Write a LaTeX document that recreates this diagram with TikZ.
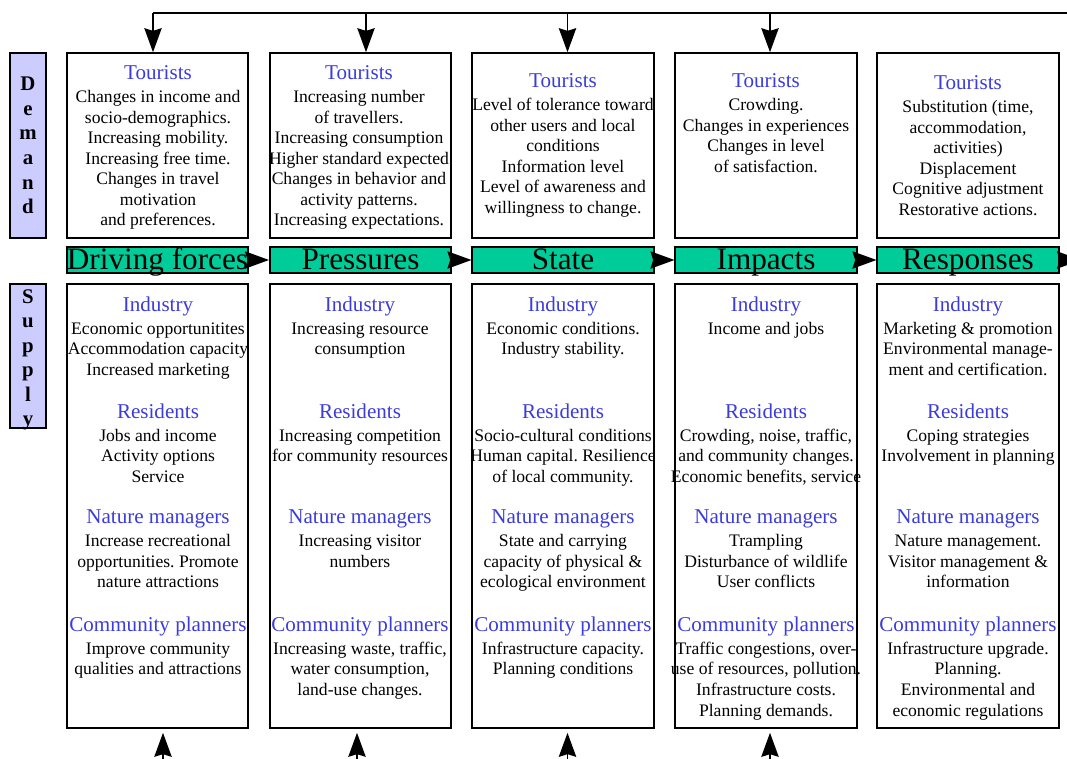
\documentclass[tikz,border=0pt]{standalone}
\usepackage{fontspec}
\setmainfont{Liberation Serif}
\usetikzlibrary{arrows.meta}
\definecolor{dgreen}{RGB}{0,204,153}
\definecolor{lav}{RGB}{204,204,255}
\definecolor{ttlblue}{RGB}{60,60,220}
\frenchspacing
\newcommand{\bodyf}{\fontsize{13.2}{15.4}\selectfont\frenchspacing}
\newcommand{\ttl}[1]{{\color{ttlblue}\fontsize{15.8}{15.4}\selectfont #1}\\[1.9pt]}
\tikzset{
  box/.style={draw, line width=1.2pt, minimum width=136.1pt, inner sep=0pt},
  upbox/.style={box, minimum height=138.75pt},
  lowbox/.style={box, minimum height=333pt},
  barbox/.style={box, fill=dgreen, minimum height=19.5pt},
  sidebox/.style={draw, fill=lav, line width=1.2pt, minimum width=27pt, inner sep=0pt},
  grp/.style={align=center, inner sep=0pt, anchor=north, font=\bodyf},
  barlbl/.style={anchor=base, inner sep=0pt, font=\fontsize{23.4}{26}\selectfont},
  sidelbl/.style={align=center, inner sep=0pt, anchor=north, font=\fontsize{15.6}{18.4}\selectfont\bfseries},
  arr/.style={-{Stealth[length=18pt,width=13pt,inset=2pt]}, line width=1.2pt}
}
\begin{document}
\begin{tikzpicture}[x=0.75pt,y=-0.75pt]
\useasboundingbox (0,0) rectangle (1067,758);
\clip (0,0) rectangle (1067,758);
% side boxes
\node[sidebox, minimum height=138.75pt] (dem) at (28,145.5) {};
\node[sidebox, minimum height=108pt] (sup) at (28,356) {};
\node[sidelbl] (demt) at (28,77) {D\\e\\m\\a\\n\\d};
\node[sidelbl] (supt) at (28,289) {S\\u\\p\\p\\l\\y};
% upper boxes
\node[upbox] (u1) at (157.5,145.5) {};
\node[upbox] (u2) at (360.5,145.5) {};
\node[upbox] (u3) at (563,145.5) {};
\node[upbox] (u4) at (766,145.5) {};
\node[upbox] (u5) at (968,145.5) {};
% bars
\node[barbox] (g1) at (157.5,260) {};
\node[barbox] (g2) at (360.5,260) {};
\node[barbox] (g3) at (563,260) {};
\node[barbox] (g4) at (766,260) {};
\node[barbox] (g5) at (968,260) {};
\node[barlbl] (gt1) at (157.5,269) {Driving forces};
\node[barlbl] (gt2) at (360.5,269) {Pressures};
\node[barlbl] (gt3) at (563,269) {State};
\node[barlbl] (gt4) at (766,269) {Impacts};
\node[barlbl] (gt5) at (968,269) {Responses};
% lower boxes
\node[lowbox] (l1) at (157.5,506) {};
\node[lowbox] (l2) at (360.5,506) {};
\node[lowbox] (l3) at (563,506) {};
\node[lowbox] (l4) at (766,506) {};
\node[lowbox] (l5) at (968,506) {};
% upper texts
\node[grp] (tu1) at (158,65.5) {\ttl{Tourists}Changes in income and\\socio-demographics.\\Increasing mobility.\\Increasing free time.\\Changes in travel\\motivation\\and preferences.};
\node[grp] (tu2) at (359,65.5) {\ttl{Tourists}Increasing number\\of travellers.\\Increasing consumption\\Higher standard expected\\Changes in behavior and\\activity patterns.\\Increasing expectations.};
\node[grp] (tu3) at (563,73.5) {\ttl{Tourists}Level of tolerance toward\\other users and local\\conditions\\Information level\\Level of awareness and\\willingness to change.};
\node[grp] (tu4) at (766,73.5) {\ttl{Tourists}Crowding.\\Changes in experiences\\Changes in level\\of satisfaction.};
\node[grp] (tu5) at (968,75.5) {\ttl{Tourists}Substitution (time,\\accommodation,\\activities)\\Displacement\\Cognitive adjustment\\Restorative actions.};
% lower texts: industry
\node[grp] (li1) at (158,296.5) {\ttl{Industry}Economic opportunitites\\Accommodation capacity\\Increased marketing};
\node[grp] (li2) at (360,296.5) {\ttl{Industry}Increasing resource\\consumption};
\node[grp] (li3) at (563,296.5) {\ttl{Industry}Economic conditions.\\Industry stability.};
\node[grp] (li4) at (766,296.5) {\ttl{Industry}Income and jobs};
\node[grp] (li5) at (968,296.5) {\ttl{Industry}Marketing \& promotion\\Environmental manage-\\ment and certification.};
% residents
\node[grp] (lr1) at (158,403.5) {\ttl{Residents}Jobs and income\\Activity options\\Service};
\node[grp] (lr2) at (360,403.5) {\ttl{Residents}Increasing competition\\for community resources};
\node[grp] (lr3) at (563,403.5) {\ttl{Residents}Socio-cultural conditions\\Human capital. Resilience\\of local community.};
\node[grp] (lr4) at (766,403.5) {\ttl{Residents}Crowding, noise, traffic,\\and community changes.\\Economic benefits, service};
\node[grp] (lr5) at (968,403.5) {\ttl{Residents}Coping strategies\\Involvement in planning};
% nature managers
\node[grp] (ln1) at (158,509.5) {\ttl{Nature managers}Increase recreational\\opportunities. Promote\\nature attractions};
\node[grp] (ln2) at (360,509.5) {\ttl{Nature managers}Increasing visitor\\numbers};
\node[grp] (ln3) at (563,509.5) {\ttl{Nature managers}State and carrying\\capacity of physical \&\\ecological environment};
\node[grp] (ln4) at (766,509.5) {\ttl{Nature managers}Trampling\\Disturbance of wildlife\\User conflicts};
\node[grp] (ln5) at (968,509.5) {\ttl{Nature managers}Nature management.\\Visitor management \&\\information};
% community planners
\node[grp] (lc1) at (158,616.5) {\ttl{Community planners}Improve community\\qualities and attractions};
\node[grp] (lc2) at (360,616.5) {\ttl{Community planners}Increasing waste, traffic,\\water consumption,\\land-use changes.};
\node[grp] (lc3) at (563,616.5) {\ttl{Community planners}Infrastructure capacity.\\Planning conditions};
\node[grp] (lc4) at (766,616.5) {\ttl{Community planners}Traffic congestions, over-\\use of resources, pollution.\\Infrastructure costs.\\Planning demands.};
\node[grp] (lc5) at (968,616.5) {\ttl{Community planners}Infrastructure upgrade.\\Planning.\\Environmental and\\economic regulations};
% arrows between bars
\coordinate (gend) at (1081,260);
\draw[arr] (g1.east) -- (g2.west);
\draw[arr] (g2.east) -- (g3.west);
\draw[arr] (g3.east) -- (g4.west);
\draw[arr] (g4.east) -- (g5.west);
\draw[arr] (g5.east) -- (gend);
% top feedback line
\coordinate (t1) at (153,13);
\coordinate (t2) at (366,13);
\coordinate (t3) at (567.5,13);
\coordinate (t4) at (770,13);
\coordinate (tR) at (1075,13);
\draw[line width=1.2pt] (t1) -- (tR);
\draw[arr] (t1) -- (t1 |- u1.north);
\draw[arr] (t2) -- (t2 |- u2.north);
\draw[arr] (t3) -- (t3 |- u3.north);
\draw[arr] (t4) -- (t4 |- u4.north);
% bottom arrows
\coordinate (b1) at (163,790);
\coordinate (b2) at (357,790);
\coordinate (b3) at (567.5,790);
\coordinate (b4) at (770,790);
\draw[arr] (b1) -- ([yshift=-3pt]b1 |- l1.south);
\draw[arr] (b2) -- ([yshift=-3pt]b2 |- l2.south);
\draw[arr] (b3) -- ([yshift=-3pt]b3 |- l3.south);
\draw[arr] (b4) -- ([yshift=-3pt]b4 |- l4.south);
\end{tikzpicture}
\end{document}
